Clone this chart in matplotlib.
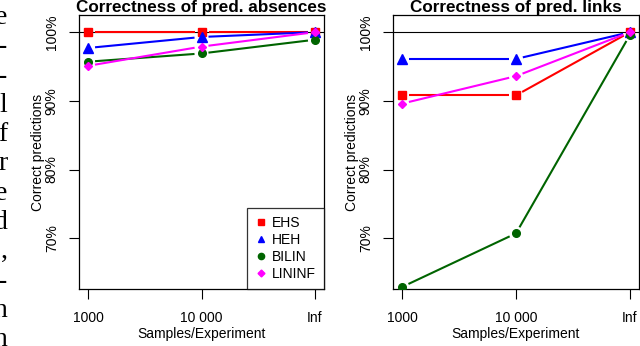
import numpy as np
import matplotlib
matplotlib.use("Agg")
import matplotlib.pyplot as plt
from matplotlib.lines import Line2D

plt.rcParams['font.family'] = ['Liberation Sans', 'DejaVu Sans']

# --- data ---
x_labels = ["1000", "10 000", "Inf"]
methods = ["EHS", "HEH", "BILIN", "LININF"]

absences = {
    "EHS": [100.0, 100.0, 100.0],
    "HEH": [97.7, 99.3, 100.0],
    "BILIN": [95.7, 96.9, 98.9],
    "LININF": [95.1, 97.9, 100.0],
}
links = {
    "EHS": [90.8, 90.8, 100.0],
    "HEH": [96.1, 96.1, 100.0],
    "BILIN": [62.9, 70.7, 99.6],
    "LININF": [89.6, 93.6, 100.0],
}
yticks = [70, 80, 90, 100]
ytick_labels = ["70%", "80%", "90%", "100%"]

# bits of the paper text cut off at the left edge
margin_chars = ["e", "-", "-", "l", "f", "r", "e", "d", ",", "-", "n", "n"]

# --- style ---
colors = {"EHS": "#ff0000", "HEH": "#0000ff", "BILIN": "#006400", "LININF": "#ff00ff"}
markers = {"EHS": "s", "HEH": "^", "BILIN": "o", "LININF": "D"}
msize = {"EHS": 5.5, "HEH": 6.5, "BILIN": 5.5, "LININF": 4.5}

W, H = 640, 346
fig = plt.figure(figsize=(6.4, 3.46), dpi=100)


def rect(left, right, top, bottom):
    return [left / W, 1 - bottom / H, (right - left) / W, (bottom - top) / H]


def gapped_line(ax, xs, ys, color, gap=7.0):
    # R type="b": segments stop short of the points
    pts = ax.transData.transform(np.column_stack([xs, ys]))
    inv = ax.transData.inverted()
    for p0, p1 in zip(pts[:-1], pts[1:]):
        d = p1 - p0
        L = np.hypot(*d)
        if L <= 2 * gap:
            continue
        u = d / L
        a, b = inv.transform([p0 + u * gap, p1 - u * gap])
        ax.plot([a[0], b[0]], [a[1], b[1]], color=color, lw=1.5,
                solid_capstyle='butt', zorder=3)


def panel(ax, data, title):
    x = np.arange(1, len(x_labels) + 1)
    ax.set_xlim(0.92, 3.08)
    ax.set_ylim(62.6, 102.5)
    ax.axhline(100, color='black', lw=0.8, zorder=1)
    for m in methods:
        gapped_line(ax, x, data[m], colors[m])
        ax.plot(x, data[m], linestyle='none', marker=markers[m],
                ms=msize[m], color=colors[m], mec=colors[m], zorder=4)
    ax.set_xticks(x)
    ax.set_xticklabels(x_labels)
    ax.set_yticks(yticks)
    ax.set_yticklabels(ytick_labels, rotation=90, va='center')
    ax.tick_params(axis='both', direction='out', length=7.5, width=0.8,
                   labelsize=10)
    ax.tick_params(axis='x', pad=8)
    ax.tick_params(axis='y', pad=7)
    for s in ax.spines.values():
        s.set_linewidth(0.9)
    ax.set_xlabel("Samples/Experiment", fontsize=10, labelpad=2)
    ax.set_ylabel("Correct predictions", fontsize=10, labelpad=0)
    ax.set_title(title, fontsize=12.3, fontweight='bold', pad=1.5)


ax1 = fig.add_axes(rect(79, 324, 15, 289))
ax2 = fig.add_axes(rect(393, 639, 15, 289))
panel(ax1, absences, "Correctness of pred. absences")
panel(ax2, links, "Correctness of pred. links")

leg_sizes = {"EHS": 4, "HEH": 5, "BILIN": 4.5, "LININF": 3.5}
handles = [Line2D([], [], linestyle='none', marker=markers[m], ms=leg_sizes[m],
                  color=colors[m]) for m in methods]
leg = ax1.legend(handles, methods, loc='lower right', fontsize=10,
                 frameon=True, fancybox=False, borderaxespad=0,
                 handlelength=0.8, handletextpad=0.4, labelspacing=0.2,
                 borderpad=0.6)
leg.get_frame().set_edgecolor('black')
leg.get_frame().set_linewidth(0.9)

for i, ch in enumerate(margin_chars):
    fig.text(7.5 / W, 1 - (24 + 29.3 * i) / H, ch, ha='right', va='baseline',
             fontsize=20, family='Liberation Serif')

fig.savefig("out.png", dpi=100)
